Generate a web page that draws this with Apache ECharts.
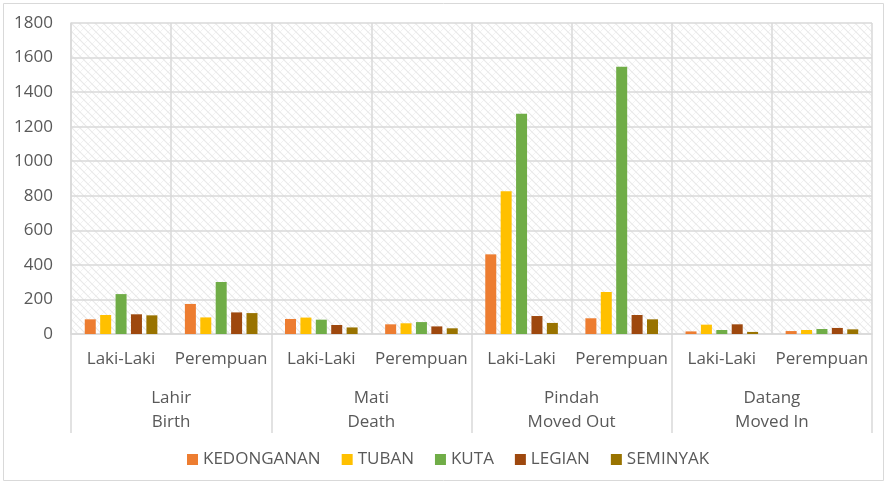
<!DOCTYPE html>
<html>
<head>
<meta charset="utf-8">
<script src="https://cdn.jsdelivr.net/npm/echarts@6/dist/echarts.min.js"></script>
<style>
  html, body { margin: 0; padding: 0; background: #fff; }
  #chart { width: 887px; height: 484px; }
</style>
</head>
<body>
<div id="chart"></div>
<script>
// Categories
const subCategories = ['Laki-Laki', 'Perempuan', 'Laki-Laki', 'Perempuan', 'Laki-Laki', 'Perempuan', 'Laki-Laki', 'Perempuan'];
const groupCategories = ['Lahir\nBirth', 'Mati\nDeath', 'Pindah\nMoved Out', 'Datang\nMoved In'];
const yTicks = { min: 0, max: 1800, interval: 200 };

// Series values
const kedonganan = [85, 174, 87, 56, 461, 91, 15, 17];
const tuban = [110, 96, 95, 62, 826, 243, 54, 23];
const kuta = [231, 301, 83, 69, 1275, 1547, 23, 29];
const legian = [114, 125, 52, 44, 104, 110, 56, 35];
const seminyak = [108, 121, 38, 33, 64, 85, 12, 27];

const seriesNames = ['KEDONGANAN', 'TUBAN', 'KUTA', 'LEGIAN', 'SEMINYAK'];
const seriesColors = ['#ED7D31', '#FFC000', '#70AD47', '#9E480E', '#997300'];

// Hatched background pattern for the plot area
function makePattern() {
    const c = document.createElement('canvas');
    c.width = 8;
    c.height = 8;
    const ctx = c.getContext('2d');
    ctx.fillStyle = '#ffffff';
    ctx.fillRect(0, 0, 8, 8);
    ctx.strokeStyle = '#e8e8e8';
    ctx.lineWidth = 1.1;
    ctx.beginPath();
    ctx.moveTo(-1, -1); ctx.lineTo(9, 9);
    ctx.moveTo(-5, 3); ctx.lineTo(5, 13);
    ctx.moveTo(3, -5); ctx.lineTo(13, 5);
    ctx.stroke();
    ctx.strokeStyle = '#f0f0f0';
    ctx.lineWidth = 0.8;
    ctx.beginPath();
    ctx.moveTo(0, 8); ctx.lineTo(8, 0);
    ctx.stroke();
    return c;
}

const textColor = '#595959';
const lineColor = '#d9d9d9';
const font = '"Open Sans", sans-serif';

const chart = echarts.init(document.getElementById('chart'));
chart.setOption({
    animation: false,
    textStyle: { fontFamily: font },
    graphic: [{
        type: 'rect',
        shape: { x: 3.5, y: 3.5, width: 880, height: 477 },
        style: { fill: 'none', stroke: '#d9d9d9', lineWidth: 1 },
        silent: true
    }],
    grid: {
        left: 71,
        right: 15,
        top: 23,
        bottom: 150,
        show: true,
        borderWidth: 0,
        backgroundColor: { image: makePattern(), repeat: 'repeat' }
    },
    legend: {
        top: 446,
        left: 182,
        itemWidth: 11,
        itemHeight: 11,
        itemGap: 21,
        icon: 'rect',
        textStyle: { color: textColor, fontSize: 17, fontFamily: font },
        data: seriesNames
    },
    xAxis: [
        {
            type: 'category',
            data: subCategories,
            axisLine: { show: true, lineStyle: { color: lineColor, width: 1.5 } },
            axisTick: { show: false },
            splitLine: { show: true, interval: 0, lineStyle: { color: lineColor, width: 1.5 } },
            axisLabel: { interval: 0, color: textColor, fontSize: 17, margin: 17, fontFamily: font }
        },
        {
            type: 'category',
            data: groupCategories,
            position: 'bottom',
            axisLine: { show: false },
            axisTick: { show: true, length: 99, lineStyle: { color: lineColor, width: 1.5 } },
            splitLine: { show: false },
            axisLabel: { interval: 0, color: textColor, fontSize: 17, lineHeight: 24, margin: 52, fontFamily: font }
        }
    ],
    yAxis: {
        type: 'value',
        min: yTicks.min,
        max: yTicks.max,
        interval: yTicks.interval,
        axisLine: { show: true, lineStyle: { color: lineColor, width: 1.5 } },
        axisTick: { show: false },
        splitLine: { lineStyle: { color: lineColor, width: 1.5 } },
        axisLabel: {
            color: textColor, fontSize: 17, margin: 18, fontFamily: font,
            formatter: value => String(value)
        }
    },
    series: [kedonganan, tuban, kuta, legian, seminyak].map((values, i) => ({
        name: seriesNames[i],
        type: 'bar',
        xAxisIndex: 0,
        data: values,
        barWidth: 11,
        barGap: '40%',
        itemStyle: { color: seriesColors[i] }
    }))
});
</script>
</body>
</html>
